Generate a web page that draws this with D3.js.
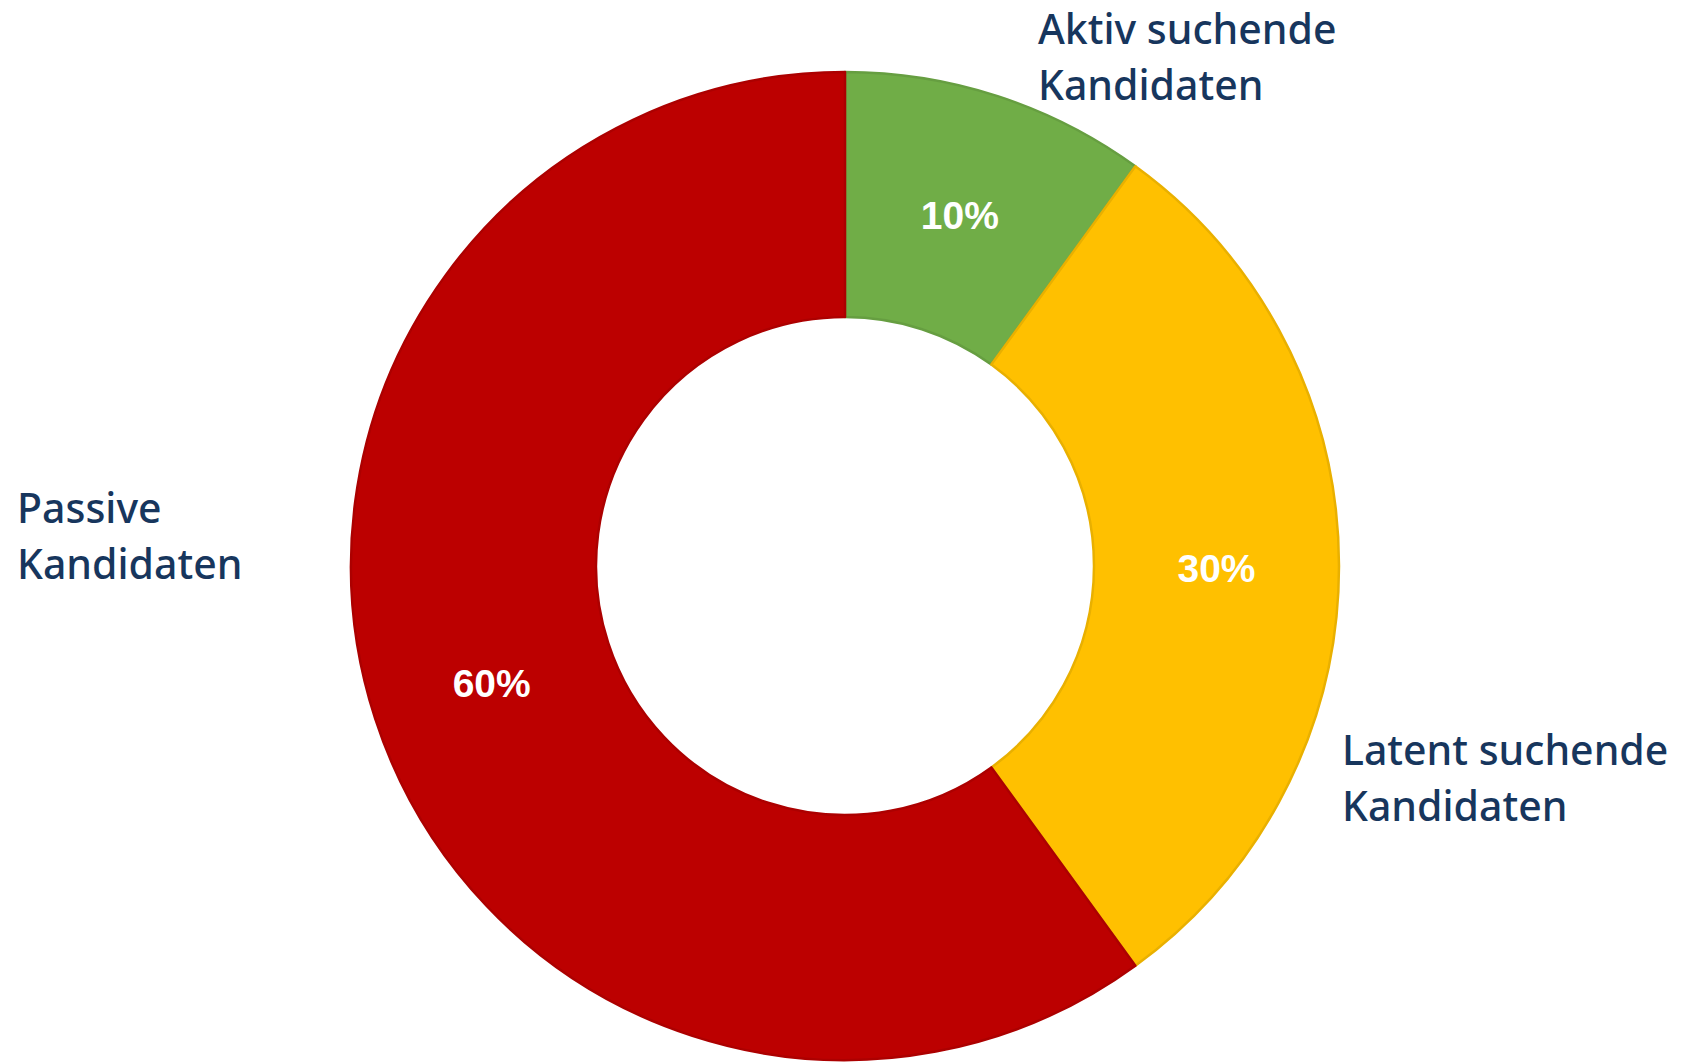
<!DOCTYPE html>
<html>
<head>
<meta charset="utf-8">
<script src="https://cdn.jsdelivr.net/npm/d3@7"></script>
<style>
  html, body { margin: 0; padding: 0; background: #fff; }
  svg { display: block; }
</style>
</head>
<body>
<svg id="chart" width="1685" height="1062"></svg>
<script>

const categories = ["Aktiv suchende Kandidaten", "Latent suchende Kandidaten", "Passive Kandidaten"];
const values = [10, 30, 60];
const colors = ["#70AD47", "#FFC000", "#BC0000"];

// where the category labels sit (left x, first baseline)
const labelPos = [
    {x: 1038, y: 44},
    {x: 1342, y: 765},
    {x: 17, y: 523}
];

const donut = function(){

    const render = function(target_id){
        let svg = d3.select('#'+target_id),
            cx = 845,
            cy = 566,
            outer = 494,
            inner = 249;

        let data = categories.map(function(c, i){ return {name: c, value: values[i], color: colors[i]} });

        let pie = d3.pie()
            .sort(null)
            .value(function(d){ return d.value });

        let arc = d3.arc()
            .innerRadius(inner)
            .outerRadius(outer);

        let g = svg.append("g")
            .attr("transform", "translate(" + cx + "," + cy + ")");

        let total = d3.sum(values);

        g.selectAll(".slice")
            .data(pie(data))
            .enter()
            .append("path")
            .attr("class", "slice")
            .attr("d", arc)
            .attr("fill", function(d){ return d.data.color })
            .attr("stroke", function(d){ return d3.color(d.data.color).darker(0.25) })
            .attr("stroke-width", 2.5)
            .attr("stroke-linejoin", "round");

        // percentages
        g.selectAll(".pct")
            .data(pie(data))
            .enter()
            .append("text")
            .attr("class", "pct")
            .attr("x", function(d){ return arc.centroid(d)[0] })
            .attr("y", function(d){ return arc.centroid(d)[1] + 16 })
            .attr("text-anchor", "middle")
            .attr("font-family", "'Liberation Sans', Arial, sans-serif")
            .attr("font-weight", "bold")
            .attr("font-size", 39)
            .attr("fill", "#fff")
            .text(function(d){ return d3.format(".0%")(d.data.value / total) });

        // category labels, two lines each
        let lab = svg.selectAll(".cat")
            .data(data)
            .enter()
            .append("text")
            .attr("class", "cat")
            .attr("font-family", "'Noto Sans', sans-serif")
            .attr("font-size", 41)
            .attr("font-weight", 500)
            .attr("fill", "#17365D")
            .attr("x", function(d, i){ return labelPos[i].x })
            .attr("y", function(d, i){ return labelPos[i].y });

        lab.each(function(d, i){
            let words = d.name.split(" "),
                first = words.slice(0, words.length - 1).join(" "),
                last = words[words.length - 1];
            let t = d3.select(this);
            t.append("tspan").attr("x", labelPos[i].x).attr("dy", 0).text(first);
            t.append("tspan").attr("x", labelPos[i].x).attr("dy", 56).text(last);
        });
    };

    return {
        render: render
    }

}();

donut.render("chart");
</script>
</body>
</html>
